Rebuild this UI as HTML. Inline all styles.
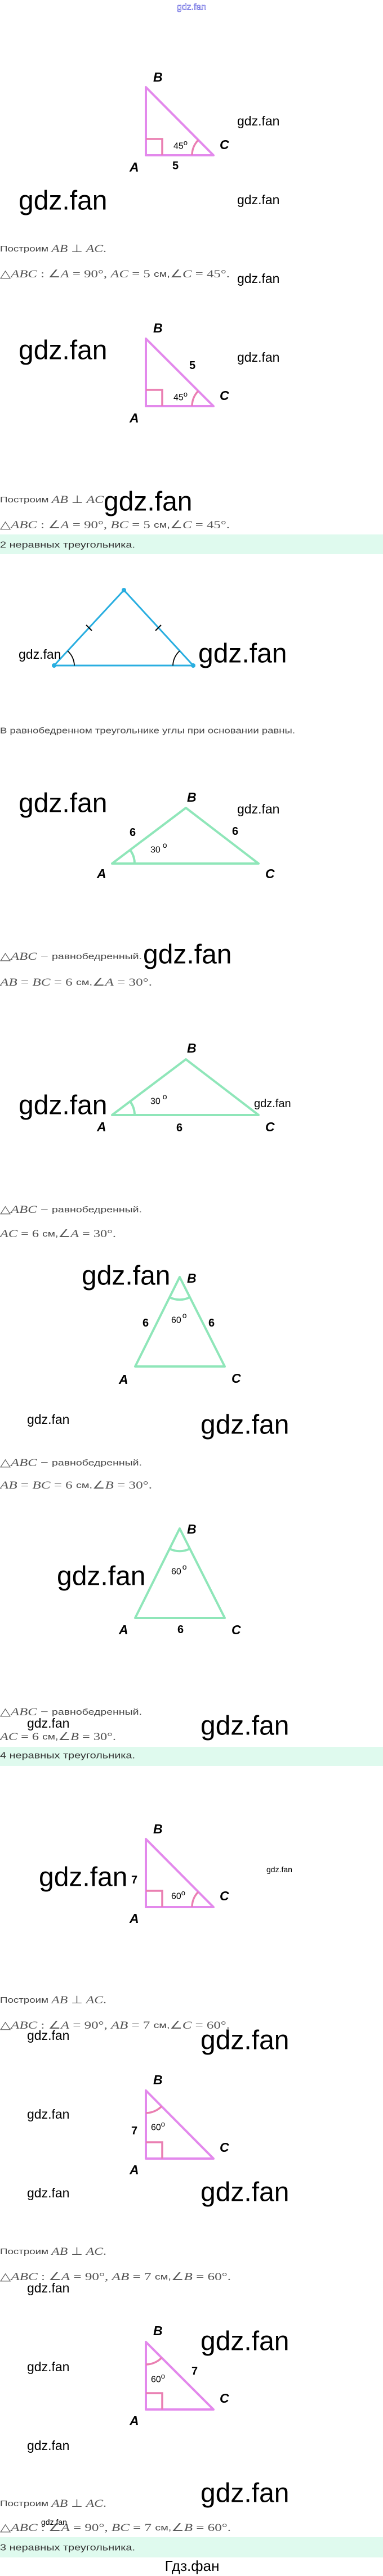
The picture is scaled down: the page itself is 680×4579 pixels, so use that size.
<!DOCTYPE html>
<html><head><meta charset="utf-8"><style>
html,body{margin:0;padding:0;background:#fff;}
svg{display:block;}
.w{font-family:"Liberation Sans",sans-serif;fill:#000;}
.wb{font-family:"Liberation Sans",sans-serif;font-size:48px;fill:#000;}
.ws{font-family:"Liberation Sans",sans-serif;font-size:23px;fill:#000;}
.L{font-family:"Liberation Sans",sans-serif;font-weight:bold;font-style:italic;font-size:23px;fill:#000;}
.n{font-family:"Liberation Sans",sans-serif;font-weight:bold;font-size:20px;fill:#000;}
.d{font-family:"Liberation Sans",sans-serif;font-size:16px;fill:#000;}
.t{font-family:"Liberation Sans",sans-serif;font-size:15px;fill:#444;}
.m{font-family:"Liberation Serif",serif;font-style:italic;font-size:19px;fill:#555;}
.mr{font-family:"Liberation Serif",serif;font-size:19px;fill:#555;}
.g{font-family:"Liberation Sans",sans-serif;font-size:16px;fill:#333;}
.pk{fill:none;stroke:#e389ec;stroke-width:4;stroke-linejoin:round;}
.sq{fill:none;stroke:#ea7fb2;stroke-width:3.5;}
.gr{fill:none;stroke:#8fe6b9;stroke-width:4;stroke-linejoin:round;}
.bl{fill:none;stroke:#29aee0;stroke-width:3;}
</style></head><body>
<svg width="680" height="4579" viewBox="0 0 680 4579" xmlns="http://www.w3.org/2000/svg" dominant-baseline="central">
<!-- header -->
<text x="340" y="13" text-anchor="middle" style="font-family:'Liberation Sans',sans-serif;font-size:16px;fill:#fff;stroke:#5555dd;stroke-width:0.7;">gdz.fan</text>

<!-- T1 -->
<polygon class="pk" points="259,155 259,276 379,276"/>
<polyline class="sq" points="259,247 288,247 288,276"/>
<path class="sq" d="M341,276 A38,38 0 0 1 352,249"/>
<text class="L" x="272" y="137">B</text>
<text class="L" x="390" y="257">C</text>
<text class="L" x="230" y="297">A</text>
<text class="d" x="308" y="260">45<tspan font-size="13" dy="-7">o</tspan></text>
<text class="n" x="306" y="295">5</text>
<text class="ws" x="421" y="215">gdz.fan</text>
<text class="ws" x="421" y="355">gdz.fan</text>
<text class="wb" x="33" y="357">gdz.fan</text>
<text x="0" y="442" textLength="189" lengthAdjust="spacingAndGlyphs"><tspan class="t">Построим </tspan><tspan class="m">AB</tspan><tspan class="mr"> ⊥ </tspan><tspan class="m">AC</tspan><tspan class="mr">.</tspan></text>
<text x="0" y="487" textLength="408" lengthAdjust="spacingAndGlyphs"><tspan class="mr">△</tspan><tspan class="m">ABC</tspan><tspan class="mr"> :  ∠</tspan><tspan class="m">A</tspan><tspan class="mr"> = 90°,  </tspan><tspan class="m">AC</tspan><tspan class="mr"> = 5 </tspan><tspan class="t">см,</tspan><tspan class="mr">∠</tspan><tspan class="m">C</tspan><tspan class="mr"> = 45°.</tspan></text>
<text class="ws" x="421" y="495">gdz.fan</text>

<!-- T2 -->
<text class="wb" x="33" y="623">gdz.fan</text>
<polygon class="pk" points="259,602 259,722 379,722"/>
<polyline class="sq" points="259,693 288,693 288,722"/>
<path class="sq" d="M341,722 A38,38 0 0 1 352,695"/>
<text class="L" x="272" y="583">B</text>
<text class="n" x="336" y="650">5</text>
<text class="d" x="308" y="707">45<tspan font-size="13" dy="-7">o</tspan></text>
<text class="L" x="390" y="703">C</text>
<text class="L" x="230" y="743">A</text>
<text class="ws" x="421" y="635">gdz.fan</text>
<text x="0" y="888" textLength="184" lengthAdjust="spacingAndGlyphs"><tspan class="t">Построим </tspan><tspan class="m">AB</tspan><tspan class="mr"> ⊥ </tspan><tspan class="m">AC</tspan></text>
<text class="wb" x="184" y="892">gdz.fan</text>
<text x="0" y="933" textLength="408" lengthAdjust="spacingAndGlyphs"><tspan class="mr">△</tspan><tspan class="m">ABC</tspan><tspan class="mr"> :  ∠</tspan><tspan class="m">A</tspan><tspan class="mr"> = 90°,  </tspan><tspan class="m">BC</tspan><tspan class="mr"> = 5 </tspan><tspan class="t">см,</tspan><tspan class="mr">∠</tspan><tspan class="m">C</tspan><tspan class="mr"> = 45°.</tspan></text>
<rect x="0" y="950" width="680" height="35" fill="#dffaee"/>
<text class="g" x="0" y="969" textLength="240" lengthAdjust="spacingAndGlyphs">2 неравных треугольника.</text>

<!-- Blue isosceles -->
<polygon class="bl" points="220,1049 96,1183 343,1183"/>
<line x1="153" y1="1111" x2="163" y2="1121" stroke="#000" stroke-width="2"/>
<line x1="276" y1="1121" x2="286" y2="1111" stroke="#000" stroke-width="2"/>
<path d="M132,1183 A36,36 0 0 0 120,1157" fill="none" stroke="#000" stroke-width="1.8"/>
<path d="M307,1183 A36,36 0 0 1 319,1157" fill="none" stroke="#000" stroke-width="1.8"/>
<circle cx="220" cy="1049" r="4" fill="#29aee0"/>
<circle cx="96" cy="1183" r="4" fill="#29aee0"/>
<circle cx="343" cy="1183" r="4" fill="#29aee0"/>
<text class="ws" x="33" y="1163">gdz.fan</text>
<text class="wb" x="352" y="1162">gdz.fan</text>
<text class="t" x="0" y="1299" textLength="524" lengthAdjust="spacingAndGlyphs">В равнобедренном треугольнике углы при основании равны.</text>

<!-- G1 -->
<text class="wb" x="33" y="1428">gdz.fan</text>
<text class="ws" x="421" y="1438">gdz.fan</text>
<polygon class="gr" points="199,1535 330,1436 459,1535"/>
<path class="gr" d="M239,1535 A40,40 0 0 0 231,1511" stroke-width="3"/>
<text class="L" x="332" y="1417">B</text>
<text class="n" x="230" y="1480">6</text>
<text class="n" x="412" y="1478">6</text>
<text class="d" x="267" y="1511">30<tspan font-size="14" dy="-9" dx="4">o</tspan></text>
<text class="L" x="172" y="1553">A</text>
<text class="L" x="471" y="1553">C</text>
<text x="0" y="1700" textLength="252" lengthAdjust="spacingAndGlyphs"><tspan class="mr">△</tspan><tspan class="m">ABC</tspan><tspan class="mr"> − </tspan><tspan class="t">равнобедренный.</tspan></text>
<text class="wb" x="254" y="1697">gdz.fan</text>
<text x="0" y="1746" textLength="270" lengthAdjust="spacingAndGlyphs"><tspan class="m">AB</tspan><tspan class="mr"> = </tspan><tspan class="m">BC</tspan><tspan class="mr"> = 6 </tspan><tspan class="t">см,</tspan><tspan class="mr">∠</tspan><tspan class="m">A</tspan><tspan class="mr"> = 30°.</tspan></text>

<!-- G2 -->
<polygon class="gr" points="199,1982 330,1883 459,1982"/>
<path class="gr" d="M239,1982 A40,40 0 0 0 231,1958" stroke-width="3"/>
<text class="L" x="332" y="1863">B</text>
<text class="d" x="267" y="1958">30<tspan font-size="14" dy="-9" dx="4">o</tspan></text>
<text class="w" x="451" y="1962" font-size="20">gdz.fan</text>
<text class="L" x="172" y="2003">A</text>
<text class="n" x="313" y="2005">6</text>
<text class="L" x="471" y="2003">C</text>
<text class="wb" x="33" y="1965">gdz.fan</text>
<text x="0" y="2150" textLength="252" lengthAdjust="spacingAndGlyphs"><tspan class="mr">△</tspan><tspan class="m">ABC</tspan><tspan class="mr"> − </tspan><tspan class="t">равнобедренный.</tspan></text>
<text x="0" y="2193" textLength="206" lengthAdjust="spacingAndGlyphs"><tspan class="m">AC</tspan><tspan class="mr"> = 6 </tspan><tspan class="t">см,</tspan><tspan class="mr">∠</tspan><tspan class="m">A</tspan><tspan class="mr"> = 30°.</tspan></text>

<!-- G3 -->
<polygon class="gr" points="319,2270 240,2429 399,2429" stroke-width="3.5"/>
<path class="gr" d="M301,2306 A40,40 0 0 0 337,2306" stroke-width="3"/>
<text class="L" x="332" y="2272">B</text>
<text class="n" x="253" y="2352">6</text>
<text class="d" x="304" y="2347">60<tspan font-size="14" dy="-9" dx="2">o</tspan></text>
<text class="n" x="370" y="2352">6</text>
<text class="L" x="211" y="2452">A</text>
<text class="L" x="411" y="2450">C</text>
<text class="wb" x="145" y="2268">gdz.fan</text>
<text class="ws" x="48" y="2523">gdz.fan</text>
<text class="wb" x="356" y="2533">gdz.fan</text>
<text x="0" y="2600" textLength="252" lengthAdjust="spacingAndGlyphs"><tspan class="mr">△</tspan><tspan class="m">ABC</tspan><tspan class="mr"> − </tspan><tspan class="t">равнобедренный.</tspan></text>
<text x="0" y="2640" textLength="270" lengthAdjust="spacingAndGlyphs"><tspan class="m">AB</tspan><tspan class="mr"> = </tspan><tspan class="m">BC</tspan><tspan class="mr"> = 6 </tspan><tspan class="t">см,</tspan><tspan class="mr">∠</tspan><tspan class="m">B</tspan><tspan class="mr"> = 30°.</tspan></text>

<!-- G4 -->
<polygon class="gr" points="319,2717 240,2876 399,2876" stroke-width="3.5"/>
<path class="gr" d="M301,2753 A40,40 0 0 0 337,2753" stroke-width="3"/>
<text class="L" x="332" y="2718">B</text>
<text class="d" x="304" y="2794">60<tspan font-size="14" dy="-9" dx="2">o</tspan></text>
<text class="L" x="211" y="2897">A</text>
<text class="n" x="315" y="2897">6</text>
<text class="L" x="411" y="2897">C</text>
<text class="wb" x="101" y="2802">gdz.fan</text>
<text x="0" y="3043" textLength="252" lengthAdjust="spacingAndGlyphs"><tspan class="mr">△</tspan><tspan class="m">ABC</tspan><tspan class="mr"> − </tspan><tspan class="t">равнобедренный.</tspan></text>
<text class="ws" x="48" y="3063">gdz.fan</text>
<text x="0" y="3087" textLength="206" lengthAdjust="spacingAndGlyphs"><tspan class="m">AC</tspan><tspan class="mr"> = 6 </tspan><tspan class="t">см,</tspan><tspan class="mr">∠</tspan><tspan class="m">B</tspan><tspan class="mr"> = 30°.</tspan></text>
<text class="wb" x="356" y="3068">gdz.fan</text>
<rect x="0" y="3105" width="680" height="34" fill="#dffaee"/>
<text class="g" x="0" y="3121" textLength="240" lengthAdjust="spacingAndGlyphs">4 неравных треугольника.</text>

<!-- T3 -->
<polygon class="pk" points="259,3269 259,3390 379,3390"/>
<polyline class="sq" points="259,3361 288,3361 288,3390"/>
<path class="sq" d="M341,3390 A38,38 0 0 1 352,3363"/>
<text class="L" x="272" y="3251">B</text>
<text class="wb" x="69" y="3337">gdz.fan</text>
<text class="n" x="233" y="3342">7</text>
<text class="d" x="304" y="3371">60<tspan font-size="13" dy="-7">o</tspan></text>
<text class="L" x="390" y="3370">C</text>
<text class="L" x="230" y="3410">A</text>
<text class="w" x="473" y="3323" font-size="14">gdz.fan</text>
<text x="0" y="3555" textLength="189" lengthAdjust="spacingAndGlyphs"><tspan class="t">Построим </tspan><tspan class="m">AB</tspan><tspan class="mr"> ⊥ </tspan><tspan class="m">AC</tspan><tspan class="mr">.</tspan></text>
<text x="0" y="3600" textLength="408" lengthAdjust="spacingAndGlyphs"><tspan class="mr">△</tspan><tspan class="m">ABC</tspan><tspan class="mr"> :  ∠</tspan><tspan class="m">A</tspan><tspan class="mr"> = 90°,  </tspan><tspan class="m">AB</tspan><tspan class="mr"> = 7 </tspan><tspan class="t">см,</tspan><tspan class="mr">∠</tspan><tspan class="m">C</tspan><tspan class="mr"> = 60°.</tspan></text>
<text class="ws" x="48" y="3618">gdz.fan</text>
<text class="wb" x="356" y="3627">gdz.fan</text>

<!-- T4 -->
<polygon class="pk" points="259,3716 259,3837 379,3837"/>
<polyline class="sq" points="259,3808 288,3808 288,3837"/>
<path class="sq" d="M259,3756 A40,40 0 0 0 287,3744"/>
<text class="L" x="272" y="3697">B</text>
<text class="n" x="233" y="3788">7</text>
<text class="d" x="268" y="3782">60<tspan font-size="13" dy="-7">o</tspan></text>
<text class="L" x="390" y="3817">C</text>
<text class="L" x="230" y="3857">A</text>
<text class="ws" x="48" y="3758">gdz.fan</text>
<text class="ws" x="48" y="3898">gdz.fan</text>
<text class="wb" x="356" y="3897">gdz.fan</text>
<text x="0" y="4002" textLength="189" lengthAdjust="spacingAndGlyphs"><tspan class="t">Построим </tspan><tspan class="m">AB</tspan><tspan class="mr"> ⊥ </tspan><tspan class="m">AC</tspan><tspan class="mr">.</tspan></text>
<text x="0" y="4047" textLength="410" lengthAdjust="spacingAndGlyphs"><tspan class="mr">△</tspan><tspan class="m">ABC</tspan><tspan class="mr"> :  ∠</tspan><tspan class="m">A</tspan><tspan class="mr"> = 90°,  </tspan><tspan class="m">AB</tspan><tspan class="mr"> = 7 </tspan><tspan class="t">см,</tspan><tspan class="mr">∠</tspan><tspan class="m">B</tspan><tspan class="mr"> = 60°.</tspan></text>
<text class="ws" x="48" y="4067">gdz.fan</text>

<!-- T5 -->
<text class="L" x="272" y="4143">B</text>
<text class="wb" x="356" y="4162">gdz.fan</text>
<polygon class="pk" points="259,4163 259,4283 379,4283"/>
<polyline class="sq" points="259,4254 288,4254 288,4283"/>
<path class="sq" d="M259,4203 A40,40 0 0 0 287,4191"/>
<text class="n" x="340" y="4215">7</text>
<text class="d" x="268" y="4230">60<tspan font-size="13" dy="-7">o</tspan></text>
<text class="L" x="390" y="4263">C</text>
<text class="L" x="230" y="4303">A</text>
<text class="ws" x="48" y="4207">gdz.fan</text>
<text class="ws" x="48" y="4347">gdz.fan</text>
<text class="wb" x="356" y="4432">gdz.fan</text>
<text x="0" y="4450" textLength="189" lengthAdjust="spacingAndGlyphs"><tspan class="t">Построим </tspan><tspan class="m">AB</tspan><tspan class="mr"> ⊥ </tspan><tspan class="m">AC</tspan><tspan class="mr">.</tspan></text>
<text x="0" y="4493" textLength="410" lengthAdjust="spacingAndGlyphs"><tspan class="mr">△</tspan><tspan class="m">ABC</tspan><tspan class="mr"> :  ∠</tspan><tspan class="m">A</tspan><tspan class="mr"> = 90°,  </tspan><tspan class="m">BC</tspan><tspan class="mr"> = 7 </tspan><tspan class="t">см,</tspan><tspan class="mr">∠</tspan><tspan class="m">B</tspan><tspan class="mr"> = 60°.</tspan></text>
<text class="w" x="73" y="4483" font-size="14">gdz.fan</text>
<rect x="0" y="4510" width="680" height="36" fill="#dffaee"/>
<text class="g" x="0" y="4529" textLength="240" lengthAdjust="spacingAndGlyphs">3 неравных треугольника.</text>
<text class="w" x="341" y="4561" font-size="26" text-anchor="middle">Гдз.фан</text>
</svg>
</body></html>
